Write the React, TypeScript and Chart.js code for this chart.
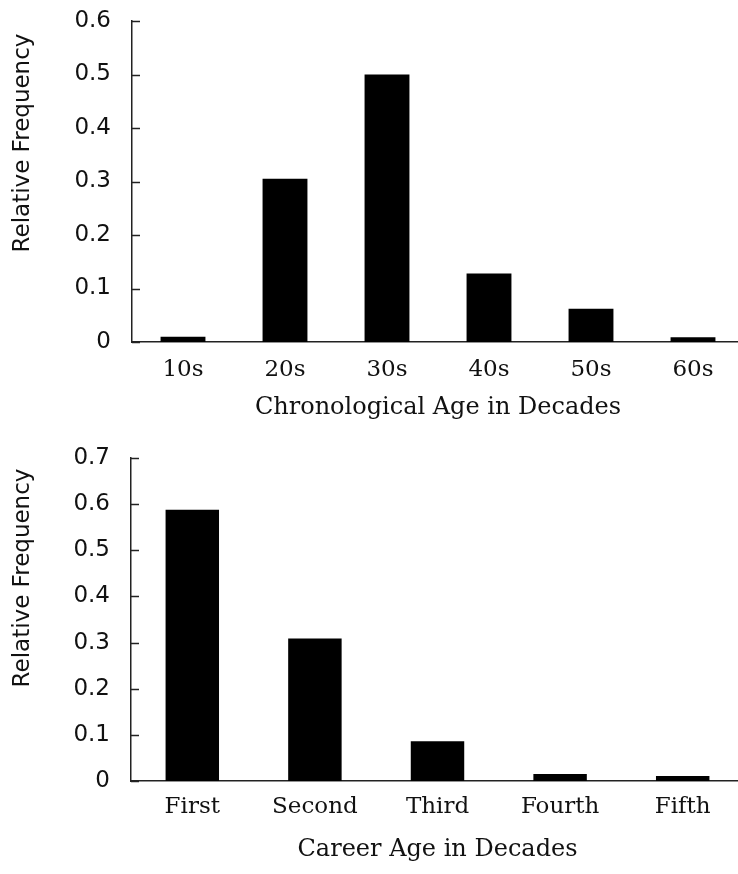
import React, { useEffect, useRef } from 'react';
import { Chart, registerables } from 'chart.js';

Chart.register(...registerables);

// ---- Data ----
const chronoCategories = ['10s', '20s', '30s', '40s', '50s', '60s'];
const chronoValues = [0.01, 0.305, 0.5, 0.128, 0.062, 0.009];
const chronoYTicks = ['0', '0.1', '0.2', '0.3', '0.4', '0.5', '0.6'];
const chronoYMax = 0.6;

const careerCategories = ['First', 'Second', 'Third', 'Fourth', 'Fifth'];
const careerValues = [0.588, 0.309, 0.086, 0.015, 0.011];
const careerYTicks = ['0', '0.1', '0.2', '0.3', '0.4', '0.5', '0.6', '0.7'];
const careerYMax = 0.7;

const CANVAS_W = 744;
const SANS = '"DejaVu Sans", sans-serif';
const SERIF = '"DejaVu Serif", serif';
const TEXT = '#111';
const AXIS = '#222';

type PanelProps = {
  labels: string[];
  values: number[];
  yTicks: string[];
  yMax: number;
  xTitle: string;
  yTitle: string;
  top: number;
  height: number;
  areaTop: number;
  areaBottom: number;
  axisX: number;
  barPct: number;
  tickPad: number;
  titlePad: number;
  yTitleX: number;
  yTitleY: number;
};

function Panel(p: PanelProps) {
  const ref = useRef<HTMLCanvasElement | null>(null);
  useEffect(() => {
    const canvas = ref.current;
    if (!canvas) return;
    const inwardTicks = {
      id: 'inwardTicks',
      afterDraw(chart: any) {
        const { ctx, chartArea, scales } = chart;
        const y = scales.y;
        ctx.save();
        ctx.strokeStyle = AXIS;
        ctx.lineWidth = 1.5;
        y.ticks.forEach((t: any) => {
          const py = Math.round(y.getPixelForValue(t.value)) + 0.5;
          ctx.beginPath();
          ctx.moveTo(chartArea.left, py);
          ctx.lineTo(chartArea.left + 8, py);
          ctx.stroke();
        });
        ctx.fillStyle = TEXT;
        ctx.font = '23px ' + SANS;
        ctx.textAlign = 'center';
        ctx.textBaseline = 'middle';
        ctx.translate(p.yTitleX, p.yTitleY);
        ctx.rotate(-Math.PI / 2);
        ctx.fillText(p.yTitle, 0, 0);
        ctx.restore();
      },
    };
    const chart = new Chart(canvas, {
      type: 'bar',
      data: {
        labels: p.labels,
        datasets: [
          {
            data: p.values,
            backgroundColor: '#000',
            borderWidth: 0,
            barPercentage: p.barPct,
            categoryPercentage: 1,
          },
        ],
      },
      options: {
        animation: false,
        responsive: false,
        devicePixelRatio: 1,
        layout: { padding: { top: p.areaTop, left: 0, right: 0, bottom: 0 } },
        plugins: { legend: { display: false }, tooltip: { enabled: false }, title: { display: false } },
        scales: {
          x: {
            offset: true,
            grid: { display: false, drawTicks: false },
            border: { display: true, color: AXIS, width: 1.5 },
            ticks: {
              color: TEXT,
              font: { family: SERIF, size: 23 },
              padding: p.tickPad,
              maxRotation: 0,
              autoSkip: false,
            },
            title: {
              display: true,
              text: p.xTitle,
              color: TEXT,
              font: { family: SERIF, size: 24 },
              padding: { top: 0, bottom: p.titlePad },
            },
            afterFit(scale: any) {
              scale.height = p.height - p.areaBottom;
              scale.paddingLeft = 0;
              scale.paddingRight = 0;
            },
          },
          y: {
            min: 0,
            max: p.yMax,
            grid: { display: false, drawTicks: false },
            border: { display: true, color: AXIS, width: 1.5 },
            ticks: {
              stepSize: 0.1,
              color: TEXT,
              font: { family: SANS, size: 23 },
              padding: 21,
              callback: (_v: any, i: number) => p.yTicks[i],
            },
            afterFit(scale: any) {
              scale.width = p.axisX;
              scale.paddingTop = 0;
              scale.paddingBottom = 0;
            },
          },
        },
      },
      plugins: [inwardTicks],
    });
    return () => chart.destroy();
  }, []);
  return (
    <canvas
      ref={ref}
      width={CANVAS_W}
      height={p.height}
      style={{ position: 'absolute', left: 0, top: p.top, width: CANVAS_W, height: p.height }}
    />
  );
}

export default function App() {
  return (
    <div
      style={{
        position: 'absolute',
        left: 0,
        top: 0,
        width: 738,
        height: 874,
        overflow: 'hidden',
        background: '#fff',
      }}
    >
      <Panel
        labels={chronoCategories}
        values={chronoValues}
        yTicks={chronoYTicks}
        yMax={chronoYMax}
        xTitle="Chronological Age in Decades"
        yTitle="Relative Frequency"
        top={0}
        height={430}
        areaTop={21}
        areaBottom={342}
        axisX={132}
        barPct={0.44}
        tickPad={14}
        titlePad={8}
        yTitleX={23}
        yTitleY={143}
      />
      <Panel
        labels={careerCategories}
        values={careerValues}
        yTicks={careerYTicks}
        yMax={careerYMax}
        xTitle="Career Age in Decades"
        yTitle="Relative Frequency"
        top={430}
        height={444}
        areaTop={28}
        areaBottom={351}
        axisX={131}
        barPct={0.436}
        tickPad={12.5}
        titlePad={9.5}
        yTitleX={23}
        yTitleY={148}
      />
    </div>
  );
}
